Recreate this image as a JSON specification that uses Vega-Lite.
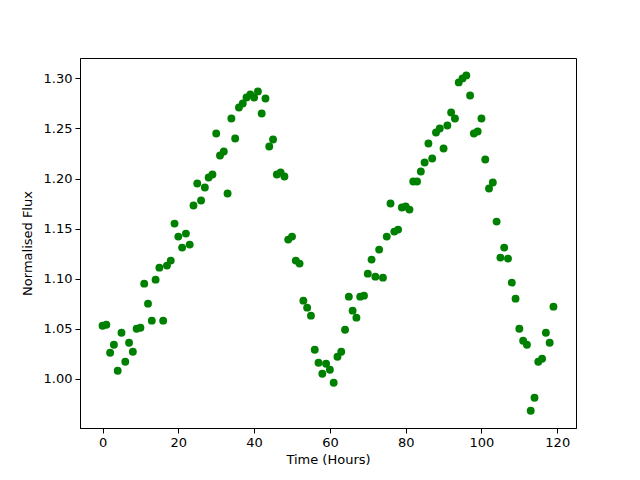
{
  "$schema": "https://vega.github.io/schema/vega-lite/v6.json",
  "width": 496,
  "height": 370,
  "autosize": {"type": "none"},
  "padding": {"left": 80, "top": 58, "right": 64, "bottom": 52},
  "background": "white",
  "config": {
    "view": {"stroke": "black", "strokeWidth": 1},
    "font": "DejaVu Sans",
    "axis": {
      "grid": false,
      "domainColor": "black",
      "domainWidth": 1,
      "tickColor": "black",
      "tickWidth": 1,
      "tickSize": 5,
      "labelPadding": 3,
      "labelFont": "DejaVu Sans",
      "labelFontSize": 13,
      "labelColor": "black",
      "titleFont": "DejaVu Sans",
      "titleFontSize": 13,
      "titleFontWeight": "normal",
      "titleColor": "black"
    }
  },
  "data": {
    "values": [
      {"t": 0, "f": 1.053}, {"t": 1, "f": 1.054}, {"t": 2, "f": 1.026}, {"t": 3, "f": 1.034},
      {"t": 4, "f": 1.008}, {"t": 5, "f": 1.046}, {"t": 6, "f": 1.017}, {"t": 7, "f": 1.036},
      {"t": 8, "f": 1.027}, {"t": 9, "f": 1.050}, {"t": 10, "f": 1.051}, {"t": 11, "f": 1.095},
      {"t": 12, "f": 1.075}, {"t": 13, "f": 1.058}, {"t": 14, "f": 1.099}, {"t": 15, "f": 1.111},
      {"t": 16, "f": 1.058}, {"t": 17, "f": 1.113}, {"t": 18, "f": 1.118}, {"t": 19, "f": 1.155},
      {"t": 20, "f": 1.142}, {"t": 21, "f": 1.131}, {"t": 22, "f": 1.145}, {"t": 23, "f": 1.134},
      {"t": 24, "f": 1.173}, {"t": 25, "f": 1.195}, {"t": 26, "f": 1.178}, {"t": 27, "f": 1.191},
      {"t": 28, "f": 1.201}, {"t": 29, "f": 1.204}, {"t": 30, "f": 1.245}, {"t": 31, "f": 1.223},
      {"t": 32, "f": 1.227}, {"t": 33, "f": 1.185}, {"t": 34, "f": 1.260}, {"t": 35, "f": 1.240},
      {"t": 36, "f": 1.271}, {"t": 37, "f": 1.275}, {"t": 38, "f": 1.281}, {"t": 39, "f": 1.284},
      {"t": 40, "f": 1.281}, {"t": 41, "f": 1.287}, {"t": 42, "f": 1.265}, {"t": 43, "f": 1.280},
      {"t": 44, "f": 1.232}, {"t": 45, "f": 1.239}, {"t": 46, "f": 1.204}, {"t": 47, "f": 1.206},
      {"t": 48, "f": 1.202}, {"t": 49, "f": 1.139}, {"t": 50, "f": 1.142}, {"t": 51, "f": 1.118},
      {"t": 52, "f": 1.115}, {"t": 53, "f": 1.078}, {"t": 54, "f": 1.071}, {"t": 55, "f": 1.063},
      {"t": 56, "f": 1.029}, {"t": 57, "f": 1.016}, {"t": 58, "f": 1.005}, {"t": 59, "f": 1.015},
      {"t": 60, "f": 1.009}, {"t": 61, "f": 0.996}, {"t": 62, "f": 1.022}, {"t": 63, "f": 1.027},
      {"t": 64, "f": 1.049}, {"t": 65, "f": 1.082}, {"t": 66, "f": 1.068}, {"t": 67, "f": 1.061},
      {"t": 68, "f": 1.082}, {"t": 69, "f": 1.083}, {"t": 70, "f": 1.105}, {"t": 71, "f": 1.119},
      {"t": 72, "f": 1.102}, {"t": 73, "f": 1.129}, {"t": 74, "f": 1.101}, {"t": 75, "f": 1.142},
      {"t": 76, "f": 1.175}, {"t": 77, "f": 1.147}, {"t": 78, "f": 1.149}, {"t": 79, "f": 1.171},
      {"t": 80, "f": 1.172}, {"t": 81, "f": 1.169}, {"t": 82, "f": 1.197}, {"t": 83, "f": 1.197},
      {"t": 84, "f": 1.207}, {"t": 85, "f": 1.216}, {"t": 86, "f": 1.235}, {"t": 87, "f": 1.220},
      {"t": 88, "f": 1.246}, {"t": 89, "f": 1.250}, {"t": 90, "f": 1.230}, {"t": 91, "f": 1.253},
      {"t": 92, "f": 1.266}, {"t": 93, "f": 1.260}, {"t": 94, "f": 1.296}, {"t": 95, "f": 1.300},
      {"t": 96, "f": 1.303}, {"t": 97, "f": 1.283}, {"t": 98, "f": 1.245}, {"t": 99, "f": 1.247},
      {"t": 100, "f": 1.260}, {"t": 101, "f": 1.219}, {"t": 102, "f": 1.190}, {"t": 103, "f": 1.196},
      {"t": 104, "f": 1.157}, {"t": 105, "f": 1.121}, {"t": 106, "f": 1.131}, {"t": 107, "f": 1.120},
      {"t": 108, "f": 1.096}, {"t": 109, "f": 1.080}, {"t": 110, "f": 1.050}, {"t": 111, "f": 1.038},
      {"t": 112, "f": 1.034}, {"t": 113, "f": 0.968}, {"t": 114, "f": 0.981}, {"t": 115, "f": 1.017},
      {"t": 116, "f": 1.020}, {"t": 117, "f": 1.046}, {"t": 118, "f": 1.036}, {"t": 119, "f": 1.072}
    ]
  },
  "mark": {"type": "circle", "color": "#008000", "opacity": 1, "size": 62},
  "encoding": {
    "x": {
      "field": "t",
      "type": "quantitative",
      "title": "Time (Hours)",
      "scale": {"domain": [-5.95, 124.95], "nice": false, "zero": false},
      "axis": {"values": [0, 20, 40, 60, 80, 100, 120], "titlePadding": 4}
    },
    "y": {
      "field": "f",
      "type": "quantitative",
      "title": "Normalised Flux",
      "scale": {"domain": [0.9508, 1.3204], "nice": false, "zero": false},
      "axis": {"values": [1.0, 1.05, 1.1, 1.15, 1.2, 1.25, 1.3], "format": ".2f", "titlePadding": 9}
    }
  }
}
